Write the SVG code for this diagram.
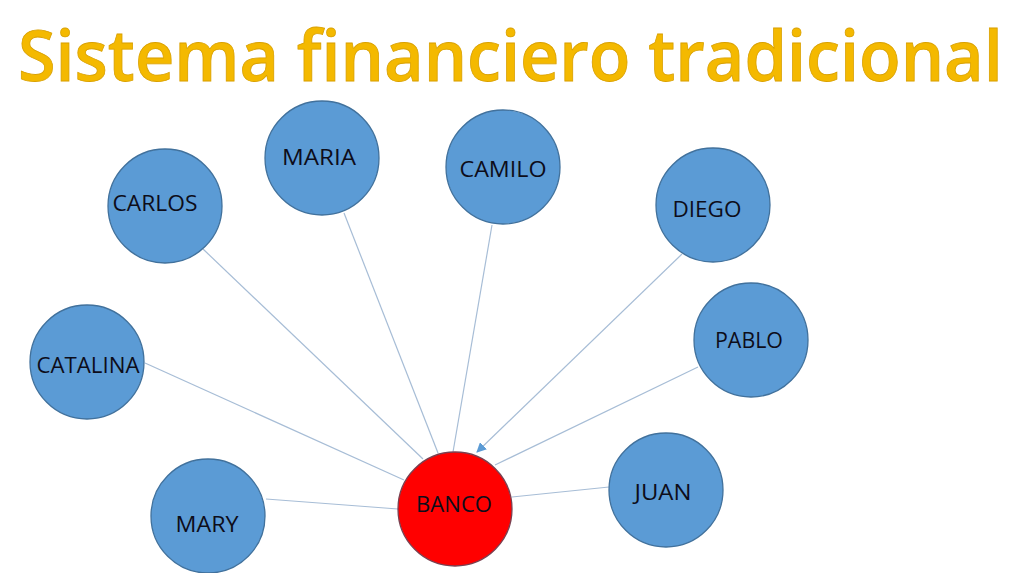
<svg xmlns="http://www.w3.org/2000/svg" width="1024" height="573" viewBox="0 0 1024 573">
<defs>
<style>
.node{fill:#5B9BD5;stroke:#41719C;stroke-width:1.3}
.bank{fill:#FF0000;stroke:#7A4050;stroke-width:1.3}
.lbl{font-family:"Open Sans","Liberation Sans",sans-serif;font-size:22px;fill:#0D0D1A;text-anchor:middle}
.edge{stroke:#A7BDD6;stroke-width:1.2;fill:none}
.title{font-family:"Open Sans","Liberation Sans",sans-serif;font-size:71px;font-weight:600;fill:#F4B900;stroke:#D9A000;stroke-width:0.8}
</style>
<marker id="arr" viewBox="0 0 10 10" refX="9" refY="5" markerWidth="10" markerHeight="10" markerUnits="userSpaceOnUse" orient="auto">
<path d="M0,0 L10,5 L0,10 z" fill="#5B9BD5"/>
</marker>
</defs>
<rect width="1024" height="573" fill="#FFFFFF"/>
<text class="title" transform="matrix(0.8,0,0,1,18,81)" x="0" y="0" textLength="1231" lengthAdjust="spacingAndGlyphs">Sistema financiero tradicional</text>
<g id="connectors">
<line class="edge" x1="203" y1="249" x2="423" y2="459"/>
<line class="edge" x1="344" y1="213" x2="438" y2="453"/>
<line class="edge" x1="492" y1="225" x2="453" y2="452"/>
<line class="edge" x1="682" y1="254" x2="477" y2="452" marker-end="url(#arr)"/>
<line class="edge" x1="698" y1="367" x2="495" y2="465"/>
<line class="edge" x1="145" y1="363" x2="404" y2="480"/>
<line class="edge" x1="266" y1="499" x2="398" y2="509"/>
<line class="edge" x1="609" y1="487" x2="512" y2="497"/>
</g>
<g id="node-carlos"><circle class="node" cx="165" cy="206" r="57"/><text class="lbl" x="155" y="211" textLength="85" lengthAdjust="spacingAndGlyphs">CARLOS</text></g>
<g id="node-maria"><circle class="node" cx="322" cy="158" r="57"/><text class="lbl" x="319" y="165" textLength="74" lengthAdjust="spacingAndGlyphs">MARIA</text></g>
<g id="node-camilo"><circle class="node" cx="503" cy="167" r="57"/><text class="lbl" x="503" y="177" textLength="87" lengthAdjust="spacingAndGlyphs">CAMILO</text></g>
<g id="node-diego"><circle class="node" cx="713" cy="205" r="57"/><text class="lbl" x="707" y="217" textLength="69" lengthAdjust="spacingAndGlyphs">DIEGO</text></g>
<g id="node-pablo"><circle class="node" cx="751" cy="340" r="57"/><text class="lbl" x="749" y="348" textLength="68" lengthAdjust="spacingAndGlyphs">PABLO</text></g>
<g id="node-catalina"><circle class="node" cx="87" cy="362" r="57"/><text class="lbl" x="88" y="373" textLength="103" lengthAdjust="spacingAndGlyphs">CATALINA</text></g>
<g id="node-mary"><circle class="node" cx="208" cy="516" r="57"/><text class="lbl" x="207" y="532" textLength="63" lengthAdjust="spacingAndGlyphs">MARY</text></g>
<g id="node-juan"><circle class="node" cx="666" cy="490" r="57"/><text class="lbl" x="663" y="500" textLength="57" lengthAdjust="spacingAndGlyphs">JUAN</text></g>
<g id="node-banco"><circle class="bank" cx="455" cy="509" r="57"/><text class="lbl" x="454" y="512" textLength="76" lengthAdjust="spacingAndGlyphs">BANCO</text></g>
</svg>
